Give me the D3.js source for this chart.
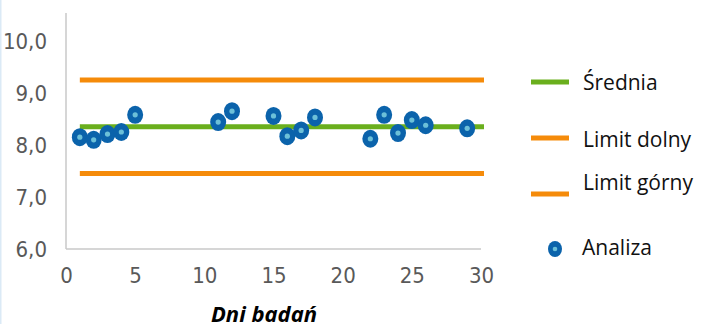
<!DOCTYPE html>
<html><head><meta charset="utf-8">
<script src="https://cdn.jsdelivr.net/npm/d3@7"></script>
<style>
html,body{margin:0;padding:0;background:#fff;}
svg{display:block;}
</style></head>
<body>
<svg id="c" width="701" height="324"></svg>
<script>
const days = [1,2,3,4,5,11,12,15,16,17,18,22,23,24,25,26,29];
const analiza = [8.15,8.10,8.21,8.25,8.58,8.44,8.65,8.56,8.17,8.28,8.53,8.12,8.58,8.23,8.48,8.38,8.32];
const srednia = 8.35;
const limitDolny = 9.25;
const limitGorny = 7.45;
const lineRange = [1,30];
const xTicks = [0,5,10,15,20,25,30];
const yTicks = [6,7,8,9,10];
const legendLabels = ["Średnia","Limit dolny","Limit górny","Analiza"];
const xTitle = "Dni badań";

const svg = d3.select("#c");
svg.append("rect").attr("x",0).attr("y",0).attr("width",1.5).attr("height",324).attr("fill","#dbeaf6");

const x = d3.scaleLinear().domain([0,30]).range([66,481]);
const y = d3.scaleLinear().domain([6,10.5]).range([249,15]);

const green="#6aaf1d", orange="#f58b0a", blue="#0b63ab", light="#6cc0d8";
const tickFont = "'Liberation Sans Narrow','DejaVu Sans Condensed','Noto Sans',sans-serif";
const labFont = "'Open Sans','Noto Sans',sans-serif";

// axes
const ya = svg.append("g").attr("transform",`translate(${x(0)},0)`)
  .call(d3.axisLeft(y).tickValues(yTicks).tickSize(0).tickPadding(19)
    .tickFormat(d=>d3.format(".1f")(d).replace(".",",")));
const xa = svg.append("g").attr("transform",`translate(0,${y(6)})`)
  .call(d3.axisBottom(x).tickValues(xTicks).tickSize(0).tickPadding(18));
[ya,xa].forEach(g=>{
  g.select(".domain").attr("stroke","#c9c9c9").attr("stroke-width",1.5);
  g.selectAll("text").attr("fill","#595959").style("font-family",tickFont).style("font-size","22px");
});
ya.select(".domain").attr("d",`M0,${y(10.5)-2}V${y(6)}`);
xa.select(".domain").attr("d",`M${x(0)},0H${x(30)}`);

// horizontal lines
const hl = [[limitDolny,orange],[limitGorny,orange],[srednia,green]];
hl.forEach(([v,c])=>{
  svg.append("line").attr("x1",x(lineRange[0])).attr("x2",x(lineRange[1])+3)
    .attr("y1",y(v)).attr("y2",y(v)).attr("stroke",c).attr("stroke-width",5);
});

// points
const pts = svg.append("g").selectAll("g").data(days.map((d,i)=>[d,analiza[i]])).join("g")
  .attr("transform",d=>`translate(${x(d[0])},${y(d[1])})`);
pts.append("ellipse").attr("rx",8).attr("ry",9).attr("fill",blue);
pts.append("circle").attr("r",2.6).attr("fill",light);

// x title
svg.append("text").attr("x",264).attr("y",322).attr("text-anchor","middle")
  .style("font-family",labFont).style("font-size","22px").style("font-weight","bold").style("font-style","italic")
  .attr("fill","#000").text(xTitle);

// legend
const leg = [
  {t:legendLabels[0],c:green,ly:82,ty:83,type:"line"},
  {t:legendLabels[1],c:orange,ly:138,ty:140,type:"line"},
  {t:legendLabels[2],c:orange,ly:194,ty:183,type:"line"},
  {t:legendLabels[3],c:blue,ly:249,ty:248,type:"pt"}
];
leg.forEach(l=>{
  if(l.type==="line"){
    svg.append("line").attr("x1",531).attr("x2",569).attr("y1",l.ly).attr("y2",l.ly)
      .attr("stroke",l.c).attr("stroke-width",5);
  } else {
    svg.append("ellipse").attr("cx",555).attr("cy",l.ly).attr("rx",7).attr("ry",8).attr("fill",blue);
    svg.append("circle").attr("cx",555).attr("cy",l.ly).attr("r",2.3).attr("fill",light);
  }
  svg.append("text").attr("x",l.type==="pt"?582:583).attr("y",l.ty).attr("dy","0.35em")
    .style("font-family",labFont).style("font-size","21px").attr("fill","#111").text(l.t);
});
</script>
</body></html>
